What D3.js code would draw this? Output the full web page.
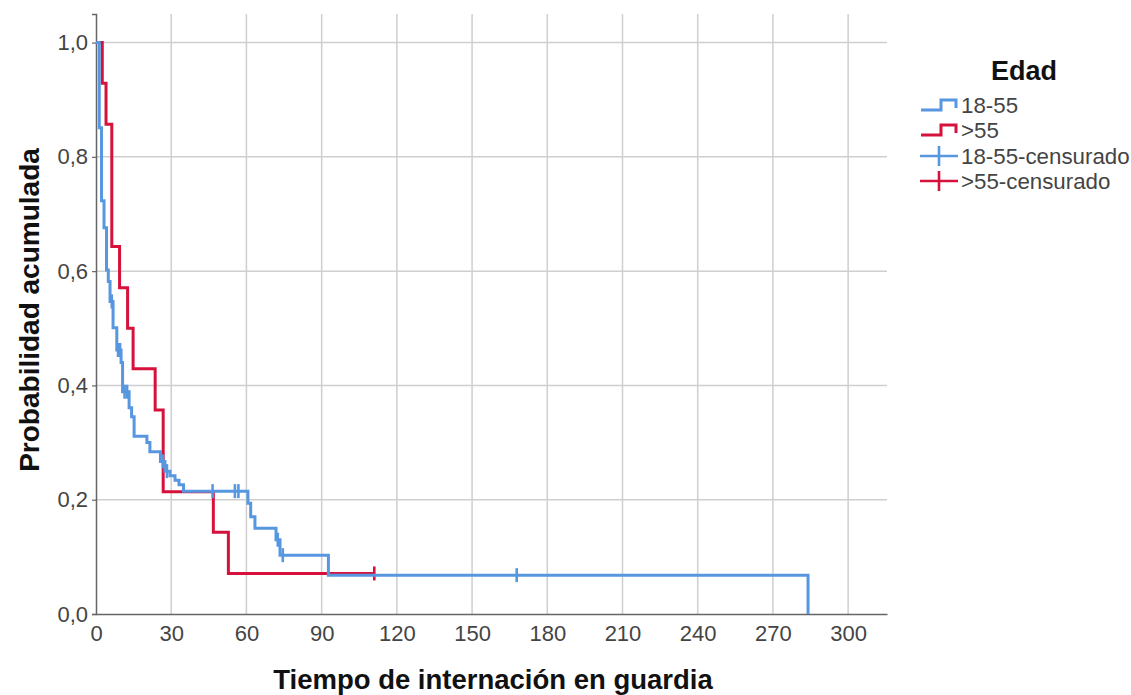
<!DOCTYPE html>
<html>
<head>
<meta charset="utf-8">
<script src="https://cdn.jsdelivr.net/npm/d3@7"></script>
<style>
  body { margin: 0; background: #fff; }
  text { font-family: "Liberation Sans", Arial, sans-serif; }
</style>
</head>
<body>
<svg id="chart" width="1131" height="695"></svg>
<script>
// Kaplan-Meier curves: survival level after each event time, plus censored cases
const xTicks = [0, 30, 60, 90, 120, 150, 180, 210, 240, 270, 300];
const yTicks = [0, 0.2, 0.4, 0.6, 0.8, 1.0];
const groupNames = ["18-55", ">55"];
const legendLabels = ["18-55", ">55", "18-55-censurado", ">55-censurado"];

const youngEventTimes = [1.3, 2.2, 3.2, 4.2, 4.9, 5.6, 6.8, 8.3, 10.0, 10.6, 13.2, 14.2, 15.2, 20.3, 21.5,
  25.7, 27.5, 29.5, 31.5, 33.1, 34.9, 60.6, 61.7, 63.4, 71.8, 73.4, 92.7, 284];
const youngSurvival = [0.851, 0.723, 0.676, 0.602, 0.582, 0.547, 0.501, 0.462, 0.44, 0.389, 0.361, 0.345, 0.311, 0.3, 0.284,
  0.267, 0.25, 0.242, 0.234, 0.226, 0.215, 0.194, 0.17, 0.15, 0.13, 0.103, 0.068, 0];
const youngCensorTimes = [6.3, 8.8, 9.6, 11.4, 12.4, 26.7, 28.3, 46.5, 55.4, 56.8, 72.5, 74.5, 167.8];
const youngCensorSurvival = [0.547, 0.462, 0.462, 0.389, 0.389, 0.267, 0.25, 0.215, 0.215, 0.215, 0.13, 0.103, 0.068];

const oldEventTimes = [2.5, 4, 6.3, 9.4, 12.6, 14.8, 23.6, 26.8, 46.8, 52.8];
const oldSurvival = [0.929, 0.857, 0.643, 0.571, 0.5, 0.429, 0.357, 0.214, 0.143, 0.071];
const oldCensorTimes = [111];
const oldCensorSurvival = [0.071];

const colors = ["#5797e0", "#d6123c"];

const svg = d3.select("#chart");
const x = d3.scaleLinear().domain([0, 315.5]).range([96, 887]);
const y = d3.scaleLinear().domain([0, 1.05]).range([614, 14]);

// grid
const grid = svg.append("g");
grid.selectAll(".vg").data(xTicks.filter(d => d > 0)).join("line")
  .attr("x1", d => x(d)).attr("x2", d => x(d))
  .attr("y1", y(1.05)).attr("y2", y(0))
  .attr("stroke", "#cfcfcf").attr("stroke-width", 1.5);
grid.selectAll(".hg").data(yTicks.filter(d => d > 0)).join("line")
  .attr("x1", x(0)).attr("x2", x(315.5))
  .attr("y1", d => y(d)).attr("y2", d => y(d))
  .attr("stroke", "#cfcfcf").attr("stroke-width", 1.5);

// axes
const fmt = d => d3.format(".1f")(d).replace(".", ",");
const yAxis = svg.append("g").attr("transform", `translate(${x(0)},0)`)
  .call(d3.axisLeft(y).tickValues(yTicks).tickFormat(fmt).tickSize(4).tickPadding(4));
const xAxis = svg.append("g").attr("transform", `translate(0,${y(0)})`)
  .call(d3.axisBottom(x).tickValues(xTicks).tickFormat(d3.format("d")).tickSize(0).tickPadding(11));
[xAxis, yAxis].forEach(a => {
  a.select(".domain").attr("stroke", "#666").attr("stroke-width", 1.5);
  a.selectAll(".tick line").attr("stroke", "#666").attr("stroke-width", 1.2);
  a.selectAll(".tick text").attr("fill", "#444").attr("font-size", 22)
    .attr("font-family", "'Liberation Sans', Arial, sans-serif");
});

// survival step curves
const series = [
  { times: youngEventTimes, surv: youngSurvival, ct: youngCensorTimes, cs: youngCensorSurvival, end: null },
  { times: oldEventTimes, surv: oldSurvival, ct: oldCensorTimes, cs: oldCensorSurvival, end: 111 }
];
const line = d3.line().x(d => x(d[0])).y(d => y(d[1])).curve(d3.curveStepAfter);
// the older group is drawn first so the younger group's line sits above where they overlap
[1, 0].forEach(i => {
  const s = series[i];
  const pts = [[0, 1]].concat(s.times.map((t, k) => [t, s.surv[k]]));
  if (s.end !== null) pts.push([s.end, s.surv[s.surv.length - 1]]);
  svg.append("path").datum(pts).attr("d", line)
    .attr("fill", "none").attr("stroke", colors[i]).attr("stroke-width", 3)
    .attr("stroke-linejoin", "miter");
  svg.append("g").selectAll("line").data(s.ct.map((t, k) => [t, s.cs[k]])).join("line")
    .attr("x1", d => x(d[0])).attr("x2", d => x(d[0]))
    .attr("y1", d => y(d[1]) - 7).attr("y2", d => y(d[1]) + 7)
    .attr("stroke", colors[i]).attr("stroke-width", 2.6);
});

// axis titles
svg.append("text").attr("x", 493).attr("y", 689).attr("text-anchor", "middle")
  .attr("font-size", 27.5).attr("font-weight", "bold").attr("fill", "#111")
  .text("Tiempo de internación en guardia");
svg.append("text").attr("transform", "translate(39,310) rotate(-90)").attr("text-anchor", "middle")
  .attr("font-size", 28).attr("font-weight", "bold").attr("fill", "#111")
  .text("Probabilidad acumulada");

// legend
const lg = svg.append("g");
lg.append("text").attr("x", 1024).attr("y", 80).attr("text-anchor", "middle")
  .attr("font-size", 27).attr("font-weight", "bold").attr("fill", "#111").text("Edad");
const rowY = [105, 130, 156, 181];
legendLabels.forEach((lab, i) => {
  const cy = rowY[i];
  const c = colors[i % 2];
  if (i < 2) {
    lg.append("path").attr("d", `M921,${cy + 5}H941V${cy - 5}H956V${cy + 3}`)
      .attr("fill", "none").attr("stroke", c).attr("stroke-width", 3);
  } else {
    lg.append("line").attr("x1", 920).attr("x2", 958).attr("y1", cy).attr("y2", cy)
      .attr("stroke", c).attr("stroke-width", 2.6);
    lg.append("line").attr("x1", 939).attr("x2", 939).attr("y1", cy - 10).attr("y2", cy + 10)
      .attr("stroke", c).attr("stroke-width", 2.6);
  }
  lg.append("text").attr("x", 961).attr("y", cy + 8).attr("font-size", 22.3).attr("fill", "#444").text(lab);
});
</script>
</body>
</html>
